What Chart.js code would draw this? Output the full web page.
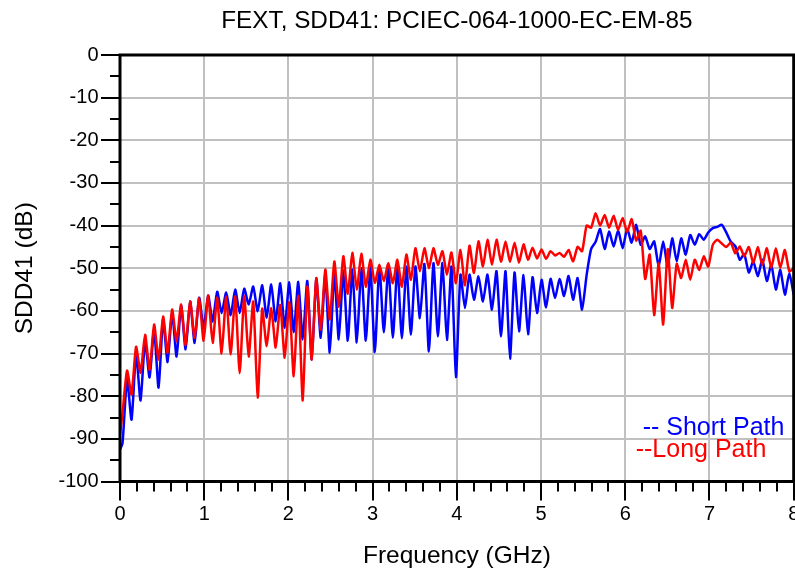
<!DOCTYPE html>
<html>
<head>
<meta charset="utf-8">
<title>FEXT, SDD41</title>
<script src="https://cdn.jsdelivr.net/npm/chart.js@4.4.1/dist/chart.umd.min.js"></script>
<style>
  html, body { margin: 0; padding: 0; background: #fff; }
  canvas { display: block; }
</style>
</head>
<body>
<canvas id="fextChart" width="795" height="575"></canvas>
<script>
//#region DATA
const chartTitle = "FEXT, SDD41: PCIEC-064-1000-EC-EM-85";
const xTitle = "Frequency (GHz)";
const yTitle = "SDD41 (dB)";
const xTickValues = [0, 1, 2, 3, 4, 5, 6, 7, 8];
const yTickValues = [0, -10, -20, -30, -40, -50, -60, -70, -80, -90, -100];
const seriesNames = ["-- Short Path", "--Long Path"];

// sample frequencies (GHz), one point per ripple peak / null
const freqGHz = [
  0, 0.03, 0.084, 0.137, 0.191, 0.244, 0.298, 0.351, 0.405, 0.458,
  0.512, 0.565, 0.619, 0.672, 0.726, 0.779, 0.833, 0.886, 0.94, 0.993,
  1.047, 1.1, 1.154, 1.207, 1.261, 1.314, 1.368, 1.421, 1.475, 1.528,
  1.582, 1.635, 1.689, 1.742, 1.796, 1.849, 1.903, 1.956, 2.01, 2.063,
  2.117, 2.17, 2.224, 2.277, 2.331, 2.384, 2.438, 2.491, 2.545, 2.598,
  2.652, 2.705, 2.759, 2.812, 2.866, 2.919, 2.973, 3.026, 3.08, 3.133,
  3.187, 3.24, 3.294, 3.347, 3.401, 3.454, 3.508, 3.561, 3.615, 3.668,
  3.722, 3.775, 3.829, 3.882, 3.936, 3.989, 4.043, 4.096, 4.15, 4.203,
  4.257, 4.31, 4.364, 4.417, 4.471, 4.524, 4.578, 4.631, 4.685, 4.738,
  4.792, 4.845, 4.899, 4.952, 5.006, 5.059, 5.113, 5.166, 5.22, 5.273,
  5.327, 5.38, 5.434, 5.487, 5.541, 5.594, 5.648, 5.701, 5.755, 5.808,
  5.862, 5.915, 5.969, 6.022, 6.076, 6.129, 6.183, 6.236, 6.29, 6.343,
  6.397, 6.45, 6.504, 6.557, 6.611, 6.664, 6.718, 6.771, 6.825, 6.878,
  6.932, 6.985, 7.039, 7.092, 7.146, 7.199, 7.253, 7.306, 7.36, 7.413,
  7.467, 7.52, 7.574, 7.627, 7.681, 7.734, 7.788, 7.841, 7.895, 7.948,
  8
];

// SDD41 (dB), short path
const shortPath = [
  -92.5, -91, -76, -85.5, -70, -81, -67, -75.6, -64.4, -78,
  -62, -72, -60.4, -70.7, -58.8, -69, -57.8, -67.5, -56.9, -64,
  -56.4, -62.5, -55.5, -60.5, -55.7, -61, -55, -60.5, -54.8, -58.5,
  -54.3, -60.1, -54, -61.6, -53.8, -62.5, -53.5, -64, -53.3, -65,
  -53.2, -66.7, -53, -71.4, -52.5, -66.3, -51.5, -69.8, -51, -66.7,
  -50.5, -67, -50.3, -67.4, -50, -67, -49.8, -69.7, -49.6, -65,
  -49.6, -66.3, -49.6, -66.4, -49.6, -65.6, -49.6, -61.7, -49, -69.5,
  -48.8, -66, -48.8, -66.8, -49.6, -75.5, -51.5, -59.3, -51.5, -57.4,
  -51.9, -57.8, -51.5, -59.7, -50.7, -66, -50.7, -71.2, -51, -64.8,
  -51.6, -65.5, -52.1, -60.5, -52.7, -59.2, -52.5, -57, -52.5, -56.5,
  -51.8, -57.4, -52.3, -59.7, -51.6, -45.5, -43.8, -40.8, -45.5, -41.4,
  -44.9, -41.1, -45.3, -40.8, -44, -39.8, -44.5, -42.5, -45.5, -43.7,
  -49.6, -43.7, -49.6, -43, -48.4, -43, -46.8, -42.2, -44.5, -42,
  -43.3, -41.6, -40.6, -40.3, -39.8, -41.6, -43.8, -44.8, -48, -46.7,
  -51, -48.4, -51.9, -48, -53, -49.2, -55, -50.4, -56.2, -51.2,
  -56.2
];

// SDD41 (dB), long path
const longPath = [
  -89, -84, -74, -79.6, -68.4, -74.5, -65.6, -73.8, -63.2, -71.4,
  -61.3, -69.8, -59.7, -67.1, -58.5, -68, -57.8, -66.3, -57, -67,
  -56.4, -67.5, -56.9, -70, -56.6, -70.2, -56.6, -74.6, -56.6, -70.7,
  -57.8, -80.3, -59.5, -68.3, -59.3, -68.6, -58.6, -71, -58, -75.3,
  -56.6, -81, -54.3, -71.4, -52.3, -64.4, -50.3, -62, -48.4, -59,
  -47.2, -56, -46.4, -55, -46.6, -54.3, -48, -53.4, -49.2, -53,
  -48.8, -53.5, -48, -54.3, -46.8, -52.7, -45.3, -50.7, -45.3, -50,
  -45.3, -49.2, -46, -51.5, -46.3, -53.5, -45.7, -54, -44.7, -51.1,
  -43.7, -49.6, -43.3, -49.2, -43.3, -48.5, -43.7, -48.5, -44, -48.7,
  -44.4, -48, -45.2, -47.7, -45.6, -47.8, -46, -47, -46.4, -47.3,
  -45.7, -48.4, -45, -46, -40, -40.5, -37.1, -40, -37.5, -40.5,
  -37.7, -41, -38.2, -41.5, -38.5, -43.5, -41.2, -52.5, -46.8, -61,
  -48.8, -63.2, -45.5, -59.3, -49, -52.3, -48, -52.7, -48, -50.4,
  -47.2, -49.6, -44.5, -43.3, -44.2, -45, -44, -46.5, -44.9, -47.2,
  -45, -48.8, -45, -49.2, -45.3, -49.9, -45.3, -49.9, -45.7, -50.7,
  -50
];
//#endregion

//#region RENDER
const FONT = "'Liberation Sans', Arial, Helvetica, sans-serif";
const BLUE = "#0000ff";
const RED = "#ff0000";

function toPoints(values) {
  return freqGHz.map((f, i) => ({ x: f, y: values[i] }));
}

// frame, outward major/minor ticks, title and the in-plot legend text
const framePlugin = {
  id: "frame",
  afterDraw(chart) {
    const { ctx, chartArea: a, scales } = chart;
    const x = scales.x;
    const y = scales.y;
    ctx.save();
    ctx.strokeStyle = "#000";
    ctx.lineWidth = 3;
    ctx.strokeRect(a.left, a.top, a.right - a.left, a.bottom - a.top);

    ctx.lineWidth = 2;
    ctx.beginPath();
    for (let v = 0; v >= -100; v -= 5) {
      const py = Math.round(y.getPixelForValue(v));
      const len = v % 10 === 0 ? 19 : 10;
      ctx.moveTo(a.left - len, py);
      ctx.lineTo(a.left, py);
    }
    for (let i = 0; i <= 40; i++) {
      const px = Math.round(x.getPixelForValue(i / 5));
      const len = i % 5 === 0 ? 19 : 10;
      ctx.moveTo(px, a.bottom);
      ctx.lineTo(px, a.bottom + len);
    }
    ctx.stroke();

    ctx.textBaseline = "alphabetic";
    ctx.font = "24.3px " + FONT;
    ctx.fillStyle = "#000";
    ctx.textAlign = "center";
    ctx.fillText(chartTitle, (a.left + a.right) / 2, 28);

    ctx.font = "25px " + FONT;
    ctx.textAlign = "left";
    ctx.fillStyle = BLUE;
    ctx.fillText(seriesNames[0], a.right - 151, a.bottom - 47);
    ctx.fillStyle = RED;
    ctx.fillText(seriesNames[1], a.right - 158, a.bottom - 25);
    ctx.restore();
  },
};

const ctx = document.getElementById("fextChart").getContext("2d");
const fextChart = new Chart(ctx, {
  type: "line",
  data: {
    datasets: [
      {
        label: "Short Path",
        data: toPoints(shortPath),
        borderColor: BLUE,
        borderWidth: 2.5,
        pointRadius: 0,
        tension: 0.2,
        order: 1,
      },
      {
        label: "Long Path",
        data: toPoints(longPath),
        borderColor: RED,
        borderWidth: 2.5,
        pointRadius: 0,
        tension: 0.2,
        order: 0,
      },
    ],
  },
  options: {
    responsive: false,
    animation: false,
    layout: {
      padding: { top: 55, right: 1.3, left: 0, bottom: 0 },
    },
    scales: {
      x: {
        type: "linear",
        min: 0,
        max: 8,
        afterBuildTicks: (s) => {
          s.ticks = xTickValues.map((v) => ({ value: v }));
        },
        afterFit: (s) => {
          s.height = 93.5;
          s.paddingLeft = 0;
          s.paddingRight = 0;
        },
        grid: { color: "#c0c0c0", lineWidth: 2, drawTicks: false },
        border: { display: false },
        ticks: {
          color: "#000",
          font: { family: FONT, size: 20 },
          padding: 21,
          maxRotation: 0,
        },
        title: {
          display: true,
          text: xTitle,
          color: "#000",
          font: { family: FONT, size: 24.5 },
          padding: { top: 0, bottom: 4 },
        },
      },
      y: {
        min: -100,
        max: 0,
        afterBuildTicks: (s) => {
          s.ticks = yTickValues.map((v) => ({ value: v }));
        },
        afterFit: (s) => {
          s.width = 120;
          s.paddingTop = 0;
          s.paddingBottom = 0;
        },
        grid: { color: "#c0c0c0", lineWidth: 2, drawTicks: false },
        border: { display: false },
        ticks: {
          color: "#000",
          font: { family: FONT, size: 20 },
          padding: 21.5,
        },
        title: {
          display: true,
          text: yTitle,
          color: "#000",
          font: { family: FONT, size: 24.5 },
          padding: { top: 11, bottom: 0 },
        },
      },
    },
    plugins: {
      legend: { display: false },
      tooltip: { enabled: false },
    },
  },
  plugins: [framePlugin],
});
//#endregion
</script>
</body>
</html>
